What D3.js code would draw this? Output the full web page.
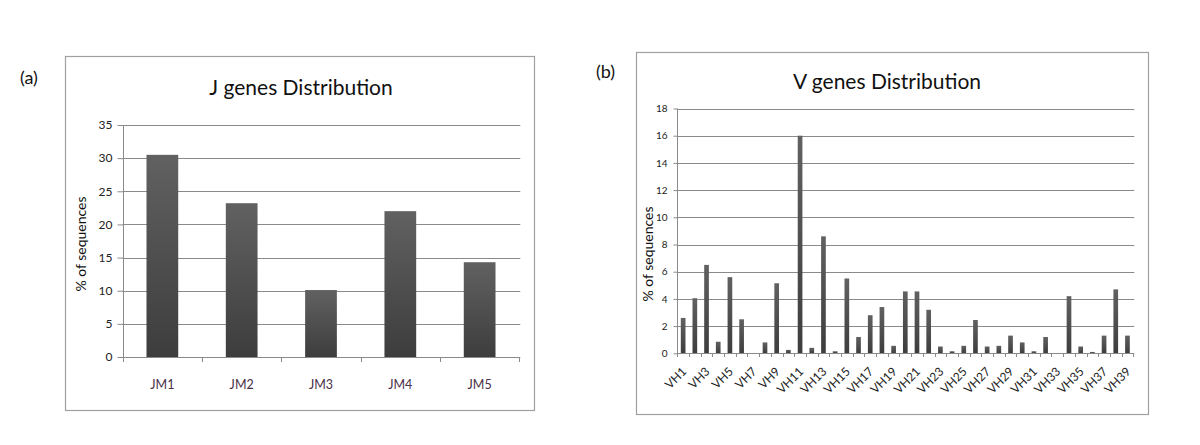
<!DOCTYPE html>
<html><head><meta charset="utf-8">
<script src="https://cdn.jsdelivr.net/npm/d3@7"></script>
<style>
html,body{margin:0;padding:0;background:#fff;}
svg{display:block;font-family:Lato, "Open Sans", sans-serif;}
</style></head>
<body>
<svg id="c" width="1200" height="445"></svg>
<script>
// ---- Data ----
const jCategories = ["JM1","JM2","JM3","JM4","JM5"];
const jValues = [30.5, 23.2, 10.1, 22.0, 14.3];
const jTicks = [0,5,10,15,20,25,30,35];

const vCategories = d3.range(1,40).map(i => "VH" + i);
const vValues = [2.6, 4.05, 6.5, 0.85, 5.6, 2.5, 0, 0.8, 5.15, 0.25,
                 16.0, 0.4, 8.6, 0.15, 5.5, 1.2, 2.8, 3.4, 0.55, 4.55,
                 4.55, 3.2, 0.5, 0.15, 0.55, 2.45, 0.5, 0.55, 1.3, 0.8,
                 0.15, 1.2, 0, 4.2, 0.5, 0.1, 1.3, 4.7, 1.3];
const vTicks = [0,2,4,6,8,10,12,14,16,18];
const vLabelShown = vCategories.filter((d,i) => i % 2 === 0);

const svg = d3.select("#c");
const defs = svg.append("defs");
const grad = defs.append("linearGradient").attr("id","barGrad")
  .attr("x1",0).attr("y1",0).attr("x2",0).attr("y2",1);
grad.append("stop").attr("offset","0%").attr("stop-color","#616161");
grad.append("stop").attr("offset","100%").attr("stop-color","#3d3d3d");

function chart(cfg){
  const g = svg.append("g");
  g.append("rect").attr("x",cfg.box[0]+0.5).attr("y",cfg.box[1]+0.5)
    .attr("width",cfg.box[2]).attr("height",cfg.box[3])
    .attr("fill","#fff").attr("stroke","#a0a0a0").attr("stroke-width",1.2);
  g.append("text").attr("x",cfg.letterPos[0]).attr("y",cfg.letterPos[1])
    .attr("font-size",18).attr("fill","#111").text(cfg.letter);
  g.append("text").attr("x",cfg.titlePos[0]).attr("y",cfg.titlePos[1])
    .attr("text-anchor","middle").attr("font-size",cfg.titleSize).attr("fill","#111").text(cfg.title);

  const x = d3.scaleBand().domain(cfg.cats).range([cfg.x0,cfg.x1])
    .paddingInner(0.6).paddingOuter(0.3);
  const y = d3.scaleLinear().domain([0,cfg.ymax]).range([cfg.y0,cfg.ytop]);

  g.append("g").selectAll("line").data(cfg.ticks.filter(t=>t>0)).join("line")
    .attr("x1",cfg.x0).attr("x2",cfg.x1+1)
    .attr("y1",d=>Math.round(y(d))+0.5).attr("y2",d=>Math.round(y(d))+0.5)
    .attr("stroke","#8a8a8a").attr("stroke-width",1);

  const ya = g.append("g").attr("transform",`translate(${Math.round(cfg.x0)+0.5},0)`)
    .call(d3.axisLeft(y).tickValues(cfg.ticks).tickSize(cfg.yTickLen).tickPadding(cfg.yPad).tickFormat(d3.format("d")));
  ya.select(".domain").attr("stroke","#8a8a8a").attr("d",`M0,${y(cfg.ymax)}V${y(0)}`);
  ya.selectAll(".tick line").attr("stroke","#8a8a8a");
  ya.selectAll(".tick text").attr("font-size",cfg.yFont).attr("fill","#222")
    .attr("font-family",cfg.tickFamily);

  g.append("g").selectAll("rect").data(cfg.vals).join("rect")
    .attr("x",(d,i)=>x(cfg.cats[i])).attr("width",x.bandwidth())
    .attr("y",d=>y(d)).attr("height",d=>y(0)-y(d))
    .attr("fill","url(#barGrad)");

  g.append("line").attr("x1",cfg.x0).attr("x2",cfg.x1+1)
    .attr("y1",Math.round(y(0))+0.5).attr("y2",Math.round(y(0))+0.5)
    .attr("stroke","#8a8a8a");
  const step = x.step();
  const bounds = d3.range(cfg.cats.length+1).map(i => cfg.x0 + i*step);
  g.append("g").selectAll("line").data(bounds).join("line")
    .attr("x1",d=>Math.round(d)+0.5).attr("x2",d=>Math.round(d)+0.5)
    .attr("y1",Math.round(y(0))).attr("y2",Math.round(y(0))+cfg.xTickLen)
    .attr("stroke","#8a8a8a");

  const xl = g.append("g");
  if(cfg.rotate){
    xl.selectAll("text").data(cfg.labelCats).join("text")
      .attr("transform",d=>`translate(${x(d)+x.bandwidth()/2+cfg.lblDx},${y(0)+cfg.lblDy}) rotate(-45)`)
      .attr("text-anchor","end").attr("font-size",cfg.xFont).attr("fill","#222")
      .attr("font-family",cfg.tickFamily).text(d=>d);
  } else {
    xl.selectAll("text").data(cfg.labelCats).join("text")
      .attr("x",d=>x(d)+x.bandwidth()/2).attr("y",y(0)+cfg.lblDy)
      .attr("text-anchor","middle").attr("font-size",cfg.xFont).attr("fill","#4a2f48")
      .attr("font-family",cfg.tickFamily).text(d=>d);
  }
  g.append("text").attr("transform",`translate(${cfg.ylabPos[0]},${cfg.ylabPos[1]}) rotate(-90)`)
    .attr("text-anchor","middle").attr("font-size",cfg.ylabSize).attr("fill","#111")
    .text("% of sequences");
}

chart({
  box:[65,56,469,354], letter:"(a)", letterPos:[20,84],
  title:"J genes Distribution", titlePos:[301,95], titleSize:21,
  cats:jCategories, vals:jValues, labelCats:jCategories, ticks:jTicks, ymax:35,
  x0:122.7, x1:519.3, y0:357, ytop:125,
  yTickLen:6, yPad:5, yFont:12, xTickLen:5, xFont:12.5, lblDy:32, rotate:false,
  ylabPos:[86,244], ylabSize:14, tickFamily:"Lato, sans-serif"
});

chart({
  box:[636,52,512,362], letter:"(b)", letterPos:[596,78],
  title:"V genes Distribution", titlePos:[887,89], titleSize:21,
  cats:vCategories, vals:vValues, labelCats:vLabelShown, ticks:vTicks, ymax:18,
  x0:677.3, x1:1133.3, y0:353.3, ytop:108.5,
  yTickLen:4, yPad:6, yFont:10, xTickLen:4, xFont:12, lblDx:4, lblDy:19, rotate:true,
  ylabPos:[653,254], ylabSize:14, tickFamily:"Lato, sans-serif"
});
</script>
</body></html>
